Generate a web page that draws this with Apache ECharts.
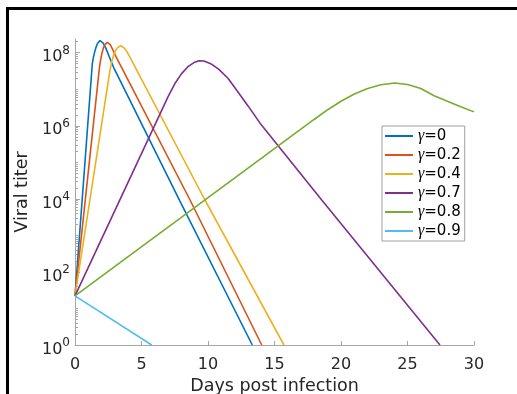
<!DOCTYPE html>
<html>
<head>
<meta charset="utf-8">
<script src="https://cdn.jsdelivr.net/npm/echarts@6/dist/echarts.min.js"></script>
<style>html,body{margin:0;padding:0;background:#fff}#c{width:517px;height:394px}</style>
</head>
<body>
<div id="c"></div>
<script>
// ---- data ----
const seriesNames = ['γ=0', 'γ=0.2', 'γ=0.4', 'γ=0.7', 'γ=0.8', 'γ=0.9'];
const days0  = [0, 1.3, 1.4, 1.5, 1.6, 1.7, 1.8, 1.88, 1.97, 2.1, 2.3, 2.6, 2.9, 7.89, 13.33];
const titer0 = [22, 5.0e7, 7.94e7, 1.12e8, 1.48e8, 1.82e8, 2.04e8, 2.14e8, 2.09e8, 1.86e8, 1.38e8, 7.41e7, 3.98e7, 8.7e3, 1];
const days02  = [0, 1.85, 1.95, 2.05, 2.15, 2.25, 2.35, 2.43, 2.52, 2.65, 2.85, 3.1, 3.5, 8.65, 14.04];
const titer02 = [22, 4.27e7, 7.08e7, 1.05e8, 1.38e8, 1.66e8, 1.86e8, 1.91e8, 1.86e8, 1.66e8, 1.2e8, 7.59e7, 3.98e7, 9.3e3, 1];
const days04  = [0, 2.6, 2.75, 2.9, 3.05, 3.2, 3.32, 3.43, 3.55, 3.7, 3.9, 4.2, 4.6, 9.77, 15.71];
const titer04 = [22, 2.82e7, 5.5e7, 8.51e7, 1.15e8, 1.38e8, 1.51e8, 1.55e8, 1.51e8, 1.35e8, 1.07e8, 6.76e7, 3.55e7, 9.3e3, 1];
const days07  = [0, 7.0, 7.5, 8.0, 8.5, 9.0, 9.32, 9.7, 10.2, 10.8, 11.5, 12.2, 13.0, 13.9, 18.55, 27.44];
const titer07 = [22, 6.3e6, 1.41e7, 2.63e7, 4.17e7, 5.5e7, 6.03e7, 5.9e7, 5.0e7, 3.55e7, 2.0e7, 8.9e6, 3.55e6, 1.2e6, 9.3e3, 1];
const days08  = [0, 18.0, 19.0, 20.0, 21.0, 22.0, 23.0, 24.06, 25.0, 26.0, 27.0, 28.0, 29.0, 30];
const titer08 = [22, 1.51e6, 2.75e6, 4.68e6, 7.41e6, 1.05e7, 1.32e7, 1.48e7, 1.35e7, 1.05e7, 6.6e6, 4.68e6, 3.31e6, 2.4e6];
const days09  = [0, 5.77];
const titer09 = [22, 1];
const xTicks = [0, 5, 10, 15, 20, 25, 30];
const yMajorTicks = [1, 1e2, 1e4, 1e6, 1e8];
const yMinorTicks = [2,3,4,5,6,7,8,9,10,20,30,40,50,60,70,80,90,
  200,300,400,500,600,700,800,900,1e3,2e3,3e3,4e3,5e3,6e3,7e3,8e3,9e3,
  2e4,3e4,4e4,5e4,6e4,7e4,8e4,9e4,1e5,2e5,3e5,4e5,5e5,6e5,7e5,8e5,9e5,
  2e6,3e6,4e6,5e6,6e6,7e6,8e6,9e6,1e7,2e7,3e7,4e7,5e7,6e7,7e7,8e7,9e7,2e8];
const yMax = 2.37e8;
// --------------------------------------

const colors = ['#0072BD', '#D95319', '#EDB120', '#7E2F8E', '#77AC30', '#4DBEEE'];
const allDays = [days0, days02, days04, days07, days08, days09];
const allTiter = [titer0, titer02, titer04, titer07, titer08, titer09];
const FONT = 'DejaVu Sans';
const AX = '#a6a6a6';

const chart = echarts.init(document.getElementById('c'), null, {renderer: 'canvas'});
chart.setOption({
  animation: false,
  backgroundColor: '#fff',
  color: colors,
  graphic: [{
    type: 'rect', z: 100, silent: true,
    shape: {x: 7.5, y: 8.5, width: 620, height: 500},
    style: {fill: 'none', stroke: '#000', lineWidth: 3}
  }],
  grid: {left: 75, right: 43, top: 39, bottom: 49, containLabel: false, outerBoundsMode: 'none'},
  xAxis: {
    type: 'value', min: 0, max: 30, interval: 5,
    name: 'Days post infection', nameLocation: 'middle', nameGap: 31,
    nameTextStyle: {fontFamily: FONT, fontSize: 17.5, color: '#262626'},
    axisLine: {show: true, lineStyle: {color: AX, width: 1}},
    axisTick: {show: true, inside: true, length: 4, lineStyle: {color: AX}, customValues: xTicks},
    axisLabel: {fontFamily: FONT, fontSize: 16, color: '#262626', margin: 12, customValues: xTicks},
    splitLine: {show: false}
  },
  yAxis: [{
    type: 'log', logBase: 10, min: 1, max: yMax, position: 'left', offset: 0,
    name: 'Viral titer', nameLocation: 'middle', nameGap: 31, nameRotate: 90,
    nameTextStyle: {fontFamily: FONT, fontSize: 17.5, color: '#262626'},
    axisLine: {show: true, lineStyle: {color: AX, width: 1}},
    axisTick: {show: true, inside: true, length: 5, lineStyle: {color: AX}, customValues: yMajorTicks},
    axisLabel: {
      customValues: yMajorTicks, margin: 5, color: '#262626',
      formatter: function (v) { return '{b|10}{s|' + Math.round(Math.log10(v)) + '}'; },
      rich: {
        b: {fontFamily: FONT, fontSize: 16, color: '#262626', padding: [9, 0, 0, 0]},
        s: {fontFamily: FONT, fontSize: 12, color: '#262626', padding: [0, 0, 4, 0]}
      }
    },
    splitLine: {show: false}, minorTick: {show: false}
  }, {
    type: 'log', logBase: 10, min: 1, max: yMax, position: 'left', offset: 0,
    axisLine: {show: false},
    axisTick: {show: true, inside: true, length: 3, lineStyle: {color: AX}, customValues: yMinorTicks},
    axisLabel: {show: false},
    splitLine: {show: false}
  }],
  legend: {
    orient: 'vertical', left: 382, top: 126,
    padding: [2, 4, 2, 3], itemGap: 3, itemWidth: 28, itemHeight: 16,
    itemTextGap: 3,
    borderColor: '#a0a0a0', borderWidth: 1, backgroundColor: '#fff',
    data: seriesNames.map(function (n) { return {name: n, icon: 'path://M0,0 L28,0 L28,2 L0,2 Z'}; }),
    formatter: function (n) { return '{g|γ}' + n.slice(1); },
    textStyle: {
      fontFamily: FONT, fontSize: 15, color: '#000', lineHeight: 16,
      rich: {g: {fontFamily: 'Liberation Serif', fontStyle: 'italic', fontSize: 16, lineHeight: 16, color: '#000'}}
    }
  },
  series: seriesNames.map(function (n, i) {
    return {
      name: n, type: 'line', xAxisIndex: 0, yAxisIndex: 0,
      data: allDays[i].map(function (d, j) { return [d, allTiter[i][j]]; }),
      symbol: 'none', smooth: false, clip: true,
      lineStyle: {width: 1.6, color: colors[i]}
    };
  })
});
</script>
</body>
</html>
